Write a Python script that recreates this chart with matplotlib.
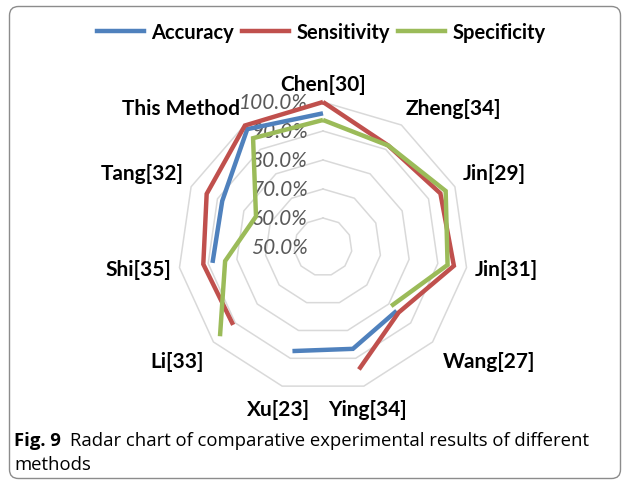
import matplotlib
matplotlib.use("Agg")
import matplotlib.pyplot as plt
import matplotlib.patches as mpatches
import matplotlib.transforms as mtransforms
from matplotlib.lines import Line2D
import numpy as np

# data (percent, nan = no value)
categories = ["Chen[30]", "Zheng[34]", "Jin[29]", "Jin[31]", "Wang[27]", "Ying[34]",
              "Xu[23]", "Li[33]", "Shi[35]", "Tang[32]", "This Method"]
accuracy = [96.1, np.nan, np.nan, np.nan, 83.6, 86.6, 87.4, np.nan, 88.5, 88.2, 98.3]
sensitivity = [100.0, 91.6, 94.5, 95.6, 84.5, 94.0, np.nan, 91.0, 91.7, 94.1, 99.8]
specificity = [93.8, 91.6, 96.5, 93.4, 81.1, np.nan, np.nan, 97.0, 84.1, 75.4, 94.6]
rings = [60, 70, 80, 90, 100]
tick_vals = [50, 60, 70, 80, 90, 100]

series = [("Accuracy", accuracy, "#4F81BD"),
          ("Sensitivity", sensitivity, "#C0504D"),
          ("Specificity", specificity, "#9BBB59")]

W, H = 627, 485
fig = plt.figure(figsize=(W / 100, H / 100), dpi=100)

# polar axes: centre at (323, 248) px, radius 145 px
cx, cy, rad = 323, 248, 145
ax = fig.add_axes([(cx - rad) / W, (H - cy - rad) / H, 2 * rad / W, 2 * rad / H],
                  projection="polar")
ax.set_theta_zero_location("N")
ax.set_theta_direction(-1)
ax.set_ylim(50, 100)
ax.grid(False)
ax.set_xticks([])
ax.set_yticks([])
ax.spines["polar"].set_visible(False)
ax.patch.set_visible(False)

n = len(categories)
theta = np.arange(n) * 2 * np.pi / n
theta_c = np.append(theta, theta[0])

# polygon gridlines
for r in rings:
    ax.plot(theta_c, [r] * (n + 1), color="#D9D9D9", linewidth=1.1, clip_on=False, zorder=1)

# series
for name, vals, col in series:
    v = np.append(vals, vals[0])
    ax.plot(theta_c, v, color=col, linewidth=3.2, clip_on=False, zorder=3,
            solid_joinstyle="miter", solid_capstyle="butt")

# radial tick labels
for t in tick_vals:
    ax.annotate(f"{t:.1f}%", xy=(0, t), xytext=(-11, 0), textcoords="offset points",
                ha="right", va="center", fontsize=15, fontstyle="italic",
                color="#595959", family="Lato", zorder=2, annotation_clip=False)

# category labels
for th, name in zip(theta, categories):
    s, c = np.sin(th), np.cos(th)
    ha = "left" if s > 0.3 else ("right" if s < -0.3 else "center")
    va = "bottom" if c > 0.3 else ("top" if c < -0.3 else "center")
    d = 9.5 if c < -0.3 else 6
    ax.annotate(name, xy=(th, 100), xytext=(d * s, d * c), textcoords="offset points",
                ha=ha, va=va, fontsize=15, fontweight="bold", family="Lato",
                color="#000000", annotation_clip=False)

# legend
handles = [Line2D([0], [0], color=col, linewidth=3.2) for _, _, col in series]
leg = fig.legend(handles, [s[0] for s in series], loc="center",
                 bbox_to_anchor=(321.5 / W, 1 - 33 / H), ncol=3, frameon=False,
                 handlelength=2.3, handletextpad=0.4, columnspacing=0.4,
                 prop={"family": "Lato", "weight": "bold", "size": 14.5})

# frame around figure
frame = mpatches.FancyBboxPatch((9.5, 5.5), 611, 472, boxstyle="round,pad=0,rounding_size=9",
                                transform=mtransforms.IdentityTransform(),
                                facecolor="none", edgecolor="#8c8c8c", linewidth=1.0)
fig.add_artist(frame)

# caption
renderer = fig.canvas.get_renderer()
cap_y1 = 1 - 441 / H
cap_y2 = 1 - 465 / H
t1 = fig.text(14 / W, cap_y1, "Fig. 9", ha="left", va="center", fontsize=13.3,
              fontweight="bold", family="Open Sans")
bb = t1.get_window_extent(renderer=renderer)
fig.text((bb.x1 + 9) / W, cap_y1, "Radar chart of comparative experimental results of different",
         ha="left", va="center", fontsize=13.3, family="Open Sans")
fig.text(14 / W, cap_y2, "methods", ha="left", va="center", fontsize=13.3, family="Open Sans")

fig.savefig("out.png", dpi=100, facecolor="white")
